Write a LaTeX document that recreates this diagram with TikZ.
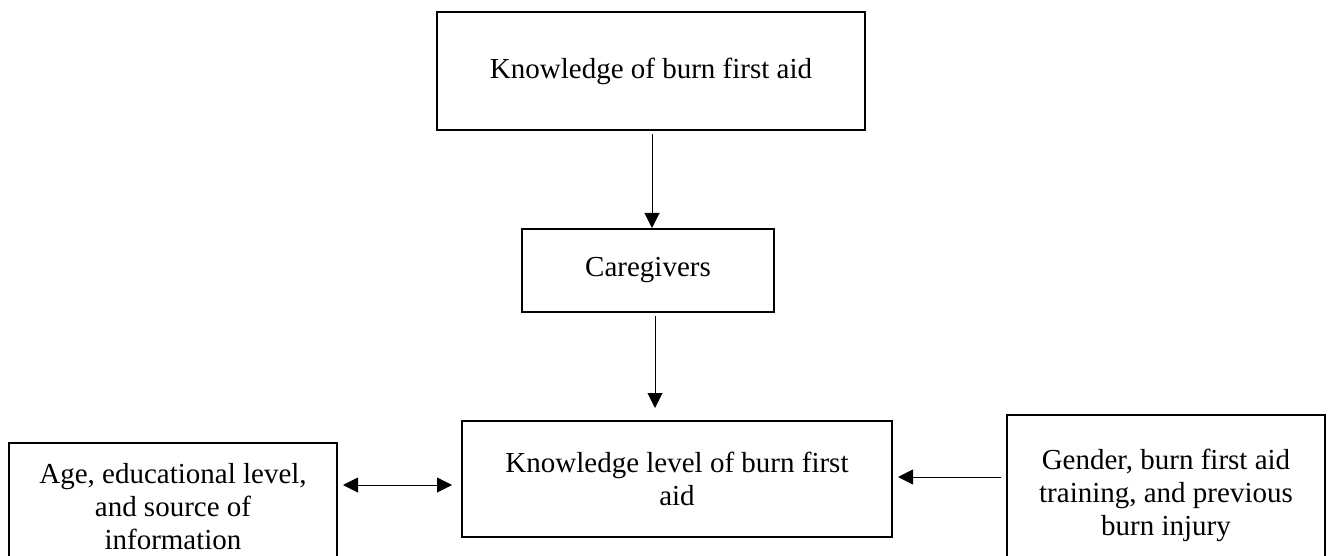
\documentclass[tikz,border=0pt]{standalone}
\usepackage{fontspec}
\setmainfont{Liberation Serif}
\usetikzlibrary{arrows.meta}
\begin{document}
\begin{tikzpicture}[x=1pt,y=1pt,
  box/.style={draw=black,line width=2pt,align=center,inner sep=0pt,
    font=\fontsize{29}{33}\selectfont},
  arr/.style={line width=1pt,-{Triangle[length=15pt,width=15pt]}},
  darr/.style={line width=1pt,{Triangle[length=15pt,width=15pt]}-{Triangle[length=15pt,width=15pt]}}]
\useasboundingbox (0,0) rectangle (1332,555);
\clip (0,0) rectangle (1332,555);
\node[box,minimum width=428pt,minimum height=118pt] (k1) at (651,484) {Knowledge of burn first aid};
\node[box,minimum width=252pt,minimum height=83pt] (cg) at (648,284.5) {Caregivers};
\node[box,minimum width=430pt,minimum height=116pt] (k3) at (677,76) {Knowledge level of burn first\\aid};
\node[box,minimum width=328pt,minimum height=127pt] (lf) at (173,48.5) {Age, educational level,\\and source of\\information};
\node[box,minimum width=318pt,minimum height=160pt] (rt) at (1166,60) {Gender, burn first aid\\training, and previous\\burn injury};
\draw[arr] ([xshift=1pt,yshift=-3pt]k1.south) -- ([xshift=4pt]cg.north);
\draw[arr] ([xshift=7pt,yshift=-3pt]cg.south) -- ([xshift=-22pt,yshift=12pt]k3.north);
\draw[darr] ([xshift=5pt,yshift=21.5pt]lf.east) -- ([xshift=-9pt,yshift=-6pt]k3.west);
\draw[arr] ([xshift=-5pt,yshift=18pt]rt.west) -- ([xshift=5pt,yshift=2pt]k3.east);
\end{tikzpicture}
\end{document}
